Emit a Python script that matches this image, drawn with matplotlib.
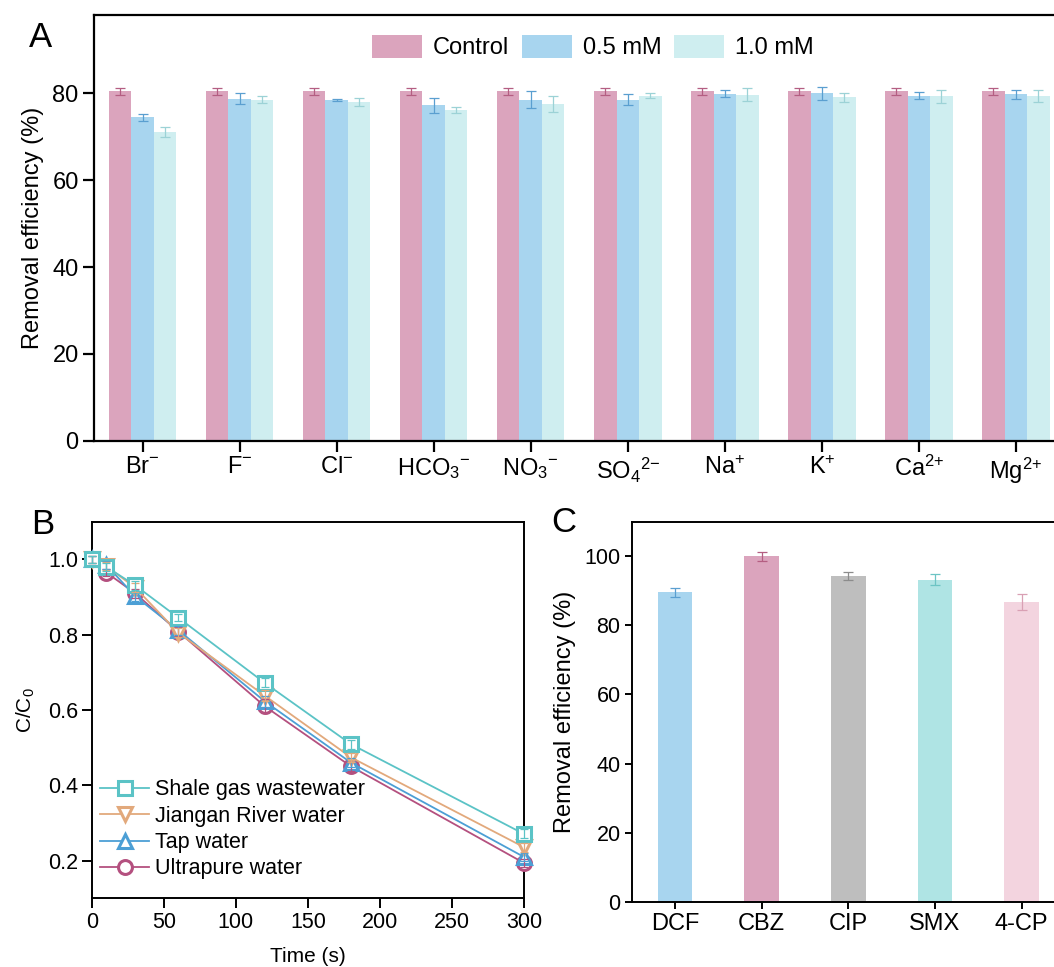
import numpy as np
import matplotlib
matplotlib.use("Agg")
import matplotlib.pyplot as plt

plt.rcParams['font.family'] = ['Liberation Sans', 'DejaVu Sans']
plt.rcParams['mathtext.fontset'] = 'custom'
plt.rcParams['mathtext.rm'] = 'Liberation Sans'
plt.rcParams['mathtext.it'] = 'Liberation Sans:italic'
plt.rcParams['mathtext.bf'] = 'Liberation Sans:bold'

# ---- panel A data: coexisting ions ----
ions = ['Br$^{-}$', 'F$^{-}$', 'Cl$^{-}$', 'HCO$_3$$^{-}$', 'NO$_3$$^{-}$',
        'SO$_4$$^{2{-}}$', 'Na$^{+}$', 'K$^{+}$', 'Ca$^{2{+}}$', 'Mg$^{2{+}}$']
control = [80.5, 80.5, 80.5, 80.5, 80.5, 80.5, 80.5, 80.5, 80.5, 80.5]
control_err = [0.8, 0.8, 0.8, 0.8, 0.8, 0.8, 0.8, 0.8, 0.8, 0.8]
mm05 = [74.5, 78.8, 78.5, 77.3, 78.6, 78.6, 79.9, 80.0, 79.5, 79.8]
mm05_err = [0.8, 1.3, 0.2, 1.7, 1.9, 1.3, 0.8, 1.5, 0.8, 1.0]
mm10 = [71.1, 78.6, 78.0, 76.2, 77.5, 79.5, 79.7, 79.1, 79.3, 79.5]
mm10_err = [1.1, 0.7, 1.0, 0.6, 1.8, 0.5, 1.5, 1.0, 1.5, 1.4]

# ---- panel B data: water matrices ----
time_s = [0, 10, 30, 60, 120, 180, 300]
shale = [1.0, 0.98, 0.931, 0.845, 0.672, 0.509, 0.271]
shale_err = [0.01, 0.01, 0.012, 0.01, 0.012, 0.012, 0.012]
river = [1.0, 0.982, 0.925, 0.805, 0.638, 0.474, 0.236]
river_err = [0.01, 0.01, 0.012, 0.012, 0.015, 0.012, 0.012]
tap = [1.0, 0.985, 0.902, 0.812, 0.623, 0.46, 0.21]
tap_err = [0.01, 0.01, 0.012, 0.012, 0.015, 0.012, 0.01]
ultra = [1.0, 0.965, 0.91, 0.808, 0.61, 0.45, 0.194]
ultra_err = [0.01, 0.01, 0.012, 0.012, 0.018, 0.012, 0.01]

# ---- panel C data: pollutants ----
pollutants = ['DCF', 'CBZ', 'CIP', 'SMX', '4-CP']
removal = [89.6, 100.0, 94.3, 93.2, 86.8]
removal_err = [1.3, 1.3, 1.1, 1.6, 2.3]

W, H = 1054, 967
fig = plt.figure(figsize=(W / 100, H / 100), dpi=100)


def px_axes(left, top, right, bottom):
    return fig.add_axes([left / W, 1 - bottom / H, (right - left) / W, (bottom - top) / H])


def style(ax, lw, ticklen, fs):
    for s in ax.spines.values():
        s.set_linewidth(lw)
    ax.tick_params(direction='out', length=ticklen, width=lw, labelsize=fs, pad=3)


pink, blue, light = '#DBA4BD', '#A8D5EF', '#CFEEF0'
pink_e, blue_e, light_e = '#B45E82', '#5A9FD0', '#9CD2D6'

# ---- A ----
axA = px_axes(94, 15.3, 1064.5, 440.7)
x = np.arange(len(ions))
w = 0.232
for off, vals, errs, c, ec, lab in [(-w, control, control_err, pink, pink_e, 'Control'),
                                     (0, mm05, mm05_err, blue, blue_e, '0.5 mM'),
                                     (w, mm10, mm10_err, light, light_e, '1.0 mM')]:
    axA.bar(x + off, vals, width=w, color=c, label=lab)
    axA.errorbar(x + off, vals, yerr=errs, fmt='none', ecolor=ec, elinewidth=0.9,
                 capsize=3.5, capthick=0.9)
axA.set_xlim(-0.5, 9.5)
axA.set_ylim(0, 98)
axA.set_yticks([0, 20, 40, 60, 80])
axA.set_xticks(x)
axA.set_xticklabels(ions)
axA.set_ylabel('Removal efficiency (%)', fontsize=17, labelpad=6)
style(axA, 1.6, 8, 17)
axA.legend(loc='center', bbox_to_anchor=(0.514, 0.9255), ncol=3, frameon=False,
           fontsize=17, handlelength=2.12, handleheight=1.14, handletextpad=0.45,
           columnspacing=0.55, borderpad=0)
fig.text(29 / W, 1 - 47 / H, 'A', fontsize=25, ha='left', va='baseline')

# ---- B ----
axB = px_axes(92, 521.7, 523.8, 898.3)
series = [(shale, shale_err, '#5BC3C6', 's', 'Shale gas wastewater'),
          (river, river_err, '#E2A97C', 'v', 'Jiangan River water'),
          (tap, tap_err, '#4C9FD5', '^', 'Tap water'),
          (ultra, ultra_err, '#B4507F', 'o', 'Ultrapure water')]
for vals, errs, c, m, lab in reversed(series):
    axB.plot(time_s, vals, color=c, lw=1.3, marker=m, ms=10, mfc='white', mec=c,
             mew=2.2, label=lab, clip_on=False, zorder=3)
    axB.errorbar(time_s, vals, yerr=errs, fmt='none', ecolor=c, elinewidth=0.9,
                 capsize=3, capthick=0.9, zorder=4, clip_on=False)
axB.set_xlim(0, 300)
axB.set_ylim(0.1, 1.1)
axB.set_xticks([0, 50, 100, 150, 200, 250, 300])
axB.set_yticks([0.2, 0.4, 0.6, 0.8, 1.0])
axB.set_xlabel('Time (s)', fontsize=15, labelpad=10)
axB.set_ylabel('C/C$_0$', fontsize=15, labelpad=8)
style(axB, 1.4, 7, 15.5)
handles, labels = axB.get_legend_handles_labels()
axB.legend(handles[::-1], labels[::-1], loc='lower left', bbox_to_anchor=(0.018, 0.05),
           frameon=False, fontsize=15.5, handlelength=2.3, handletextpad=0.25,
           labelspacing=0.25, borderpad=0, borderaxespad=0)
fig.text(31 / W, 1 - 533.5 / H, 'B', fontsize=25, ha='left', va='baseline')

# ---- C ----
axC = px_axes(631.7, 521.7, 1065, 901.7)
cols = ['#A8D5EF', '#DBA4BD', '#BEBEBE', '#AFE4E4', '#F3D4DF']
ecols = ['#5A9FD0', '#B45E82', '#8C8C8C', '#6CC4C4', '#D9A0B4']
xc = np.arange(len(pollutants))
axC.bar(xc, removal, width=0.4, color=cols)
for xi, v, e, ec in zip(xc, removal, removal_err, ecols):
    axC.errorbar(xi, v, yerr=e, fmt='none', ecolor=ec, elinewidth=0.9, capsize=3.5,
                 capthick=0.9)
axC.set_xlim(-0.5, 4.5)
axC.set_ylim(0, 110)
axC.set_yticks([0, 20, 40, 60, 80, 100])
axC.set_xticks(xc)
axC.set_xticklabels(pollutants)
axC.set_ylabel('Removal efficiency (%)', fontsize=17, labelpad=6)
style(axC, 1.4, 5, 15.5)
axC.tick_params(axis='x', labelsize=17)
fig.text(551 / W, 1 - 532 / H, 'C', fontsize=25, ha='left', va='baseline')

fig.savefig('out.png', dpi=100)
